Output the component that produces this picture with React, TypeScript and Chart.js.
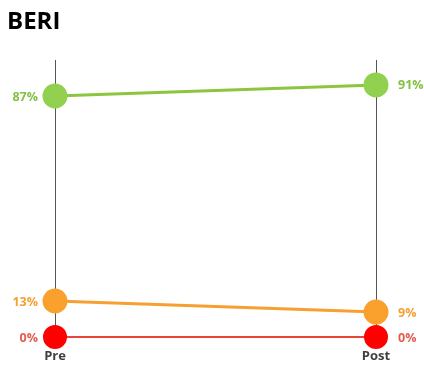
import React, { useEffect, useRef } from "react";
import { Chart, registerables } from "chart.js";

Chart.register(...registerables);

const categories = ["Pre", "Post"];
const seriesNames = ["Good", "Fair", "Poor"];
const goodValues = [87, 91];
const fairValues = [13, 9];
const poorValues = [0, 0];
const titleText = "BERI";

const labelPlugin = {
  id: "pointLabels",
  afterDatasetsDraw(chart: any) {
    const ctx = chart.ctx;
    ctx.save();
    ctx.font = "bold 12.5px 'Open Sans', sans-serif";
    ctx.textBaseline = "middle";
    chart.data.datasets.forEach((ds: any, i: number) => {
      const meta = chart.getDatasetMeta(i);
      meta.data.forEach((pt: any, j: number) => {
        const v = ds.data[j];
        ctx.fillStyle = ds.labelColor;
        if (j === 0) {
          ctx.textAlign = "right";
          ctx.fillText(v + "%", pt.x - 17, pt.y + 1);
        } else {
          ctx.textAlign = "left";
          ctx.fillText(v + "%", pt.x + 22, pt.y + 1);
        }
      });
    });
    ctx.restore();
  },
};

const titlePlugin = {
  id: "leftTitle",
  afterDraw(chart: any) {
    const ctx = chart.ctx;
    ctx.save();
    ctx.font = "bold 24px 'Open Sans', sans-serif";
    ctx.fillStyle = "#000000";
    ctx.textAlign = "left";
    ctx.textBaseline = "alphabetic";
    ctx.fillText(titleText, 7, 29);
    ctx.restore();
  },
};

export default function App() {
  const ref = useRef<HTMLCanvasElement>(null);
  useEffect(() => {
    document.body.style.margin = "0";
    const chart = new Chart(ref.current as HTMLCanvasElement, {
      type: "line",
      data: {
        labels: categories,
        datasets: [
          {
            label: seriesNames[0],
            data: goodValues,
            borderColor: "#8cc63f",
            backgroundColor: "#92d050",
            pointBackgroundColor: "#92d050",
            pointBorderColor: "#92d050",
            labelColor: "#84bf43",
            borderWidth: 3,
            pointRadius: 11,
            clip: false,
          } as any,
          {
            label: seriesNames[1],
            data: fairValues,
            borderColor: "#f6a030",
            backgroundColor: "#f9a12c",
            pointBackgroundColor: "#f9a12c",
            pointBorderColor: "#f9a12c",
            labelColor: "#f5a030",
            borderWidth: 3,
            pointRadius: 11,
            clip: false,
          } as any,
          {
            label: seriesNames[2],
            data: poorValues,
            borderColor: "#e8443a",
            backgroundColor: "#ff0000",
            pointBackgroundColor: "#ff0000",
            pointBorderColor: "#ff0000",
            labelColor: "#e25a52",
            borderWidth: 2,
            pointRadius: 11,
            clip: false,
          } as any,
        ],
      },
      options: {
        animation: false,
        responsive: false,
        layout: { padding: { left: 55, right: 48, top: 60, bottom: 3 } },
        plugins: { legend: { display: false }, tooltip: { enabled: false } },
        scales: {
          x: {
            type: "category",
            offset: false,
            border: { display: false },
            grid: { color: "#555555", lineWidth: 1, drawTicks: false },
            ticks: {
              color: "#404040",
              padding: 11,
              font: { family: "'Open Sans', sans-serif", size: 13, weight: "bold" },
            },
            afterFit: (scale: any) => {
              scale.height = 26;
            },
          },
          y: { display: false, min: 0, max: 100 },
        },
      },
      plugins: [labelPlugin, titlePlugin],
    });
    return () => chart.destroy();
  }, []);
  return (
    <div style={{ width: 424, height: 366 }}>
      <canvas ref={ref} width={424} height={366} />
    </div>
  );
}
